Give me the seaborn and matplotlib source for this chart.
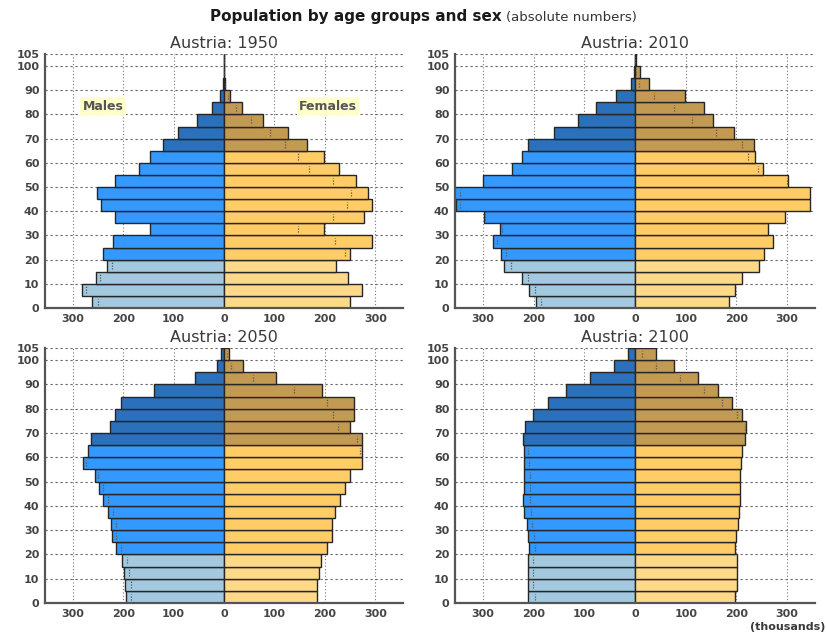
import numpy as np
import pandas as pd
import matplotlib
matplotlib.use("Agg")
import matplotlib.pyplot as plt
import seaborn as sns

sns.set_style("white")
plt.rcParams["font.family"] = ["DejaVu Sans"]

# Five-year age groups (lower bound), population in thousands
age_groups = list(range(0, 105, 5))

males_1950 = [262, 282, 253, 232, 239, 221, 147, 216, 243, 251, 216, 169, 147,
              120, 91, 54, 23, 7, 1.2, 0.3, 0.1]
females_1950 = [249, 274, 246, 222, 249, 294, 198, 277, 294, 286, 262, 228, 198,
                164, 127, 78, 36, 11, 2.2, 0.5, 0.1]

males_2010 = [196, 210, 223, 258, 264, 280, 266, 297, 353, 360, 300, 243, 223,
              211, 160, 112, 77, 38, 7, 1.2, 0.2]
females_2010 = [186, 197, 212, 245, 254, 272, 262, 296, 346, 346, 301, 252, 237,
                235, 196, 153, 136, 98, 28, 9, 1]

males_2050 = [195, 197, 199, 203, 214, 222, 224, 230, 239, 247, 255, 280, 269,
              264, 226, 216, 205, 138, 57, 14, 5]
females_2050 = [184, 184, 188, 193, 205, 214, 214, 220, 231, 239, 249, 274, 274,
                274, 249, 257, 257, 195, 103, 37, 9]

males_2100 = [211, 211, 211, 211, 210, 211, 213, 218, 220, 218, 218, 218, 218,
              220, 216, 201, 172, 136, 88, 42, 14]
females_2100 = [198, 201, 201, 201, 197, 200, 204, 206, 208, 208, 208, 210, 212,
                216, 218, 212, 191, 163, 125, 77, 41]

years = [1950, 2010, 2050, 2100]
population = {
    1950: (males_1950, females_1950),
    2010: (males_2010, females_2010),
    2050: (males_2050, females_2050),
    2100: (males_2100, females_2100),
}

age_class = ["0-19" if a < 20 else ("20-64" if a < 65 else "65+") for a in age_groups]
male_palette = {"0-19": "#A2C9DF", "20-64": "#3399FF", "65+": "#2A70BA"}
female_palette = {"0-19": "#FFD98A", "20-64": "#FFCC66", "65+": "#C29A52"}

txt_color = "#3a3a3a"
fig = plt.figure(figsize=(8.26, 6.32), dpi=100)

W, H = 826, 632
panel_px = {
    1950: (45, 54, 403, 308),
    2010: (455, 54, 815, 308),
    2050: (45, 348, 403, 603),
    2100: (455, 348, 815, 603),
}

for year in years:
    x0, y0, x1, y1 = panel_px[year]
    ax = fig.add_axes([x0 / W, 1 - y1 / H, (x1 - x0) / W, (y1 - y0) / H])
    males, females = population[year]
    df = pd.DataFrame({
        "age": np.array(age_groups) + 2.5,
        "male": -np.array(males, dtype=float),
        "female": np.array(females, dtype=float),
        "cls": age_class,
    })
    bar_kw = dict(orient="h", native_scale=True, dodge=False, width=1,
                  edgecolor="#262626", linewidth=1.0, legend=False,
                  errorbar=None, saturation=1, ax=ax, zorder=2)
    sns.barplot(data=df, x="male", y="age", hue="cls", palette=male_palette, **bar_kw)
    sns.barplot(data=df, x="female", y="age", hue="cls", palette=female_palette, **bar_kw)

    # mark the other sex's value inside the larger bar
    for a, m, f in zip(age_groups, males, females):
        xm = m if f > m else -f
        ax.vlines(xm, a + 1.3, a + 3.9, colors="#555555", linewidth=0.9,
                  linestyles=(0, (1, 1.2)), zorder=3)

    ax.set_xlim(-355, 355)
    ax.set_ylim(0, 105)
    ax.set_xticks([-300, -200, -100, 0, 100, 200, 300])
    ax.set_xticklabels(["300", "200", "100", "0", "100", "200", "300"])
    ax.set_yticks(list(range(0, 101, 10)) + [105])
    ax.set_yticklabels([str(v) for v in range(0, 101, 10)] + ["105"])
    ax.set_xlabel("")
    ax.set_ylabel("")
    ax.tick_params(length=0, labelsize=8, labelcolor="#454545", pad=4)
    for lab in ax.get_xticklabels() + ax.get_yticklabels():
        lab.set_fontweight("bold")

    ax.set_axisbelow(True)
    ax.grid(axis="y", linestyle=(0, (2, 2.5)), color="#666666", linewidth=0.8)
    ax.grid(axis="x", linestyle=(0, (1, 2)), color="#777777", linewidth=0.8)
    for side in ("top", "right"):
        ax.spines[side].set_visible(False)
    for side in ("left", "bottom"):
        ax.spines[side].set_color("#555555")
        ax.spines[side].set_linewidth(1.6)

    ax.set_title(f"Austria: {year}", fontsize=11.5, color=txt_color, pad=4)

    if year == 1950:
        box = dict(facecolor="#FFFFCC", edgecolor="none", pad=1.5)
        ax.text(-240, 83.5, "Males", ha="center", va="center", fontsize=9,
                fontweight="bold", color="#555555", bbox=box)
        ax.text(207, 83.5, "Females", ha="center", va="center", fontsize=9,
                fontweight="bold", color="#555555", bbox=box)

fig.text(0.607, 0.974, "Population by age groups and sex", ha="right", va="center",
         fontsize=11, fontweight="bold", color="#1a1a1a")
fig.text(0.612, 0.973, "(absolute numbers)", ha="left", va="center",
         fontsize=9.5, color="#333333")
fig.text(0.999, 0.008, "(thousands)", ha="right", va="center", fontsize=8,
         color=txt_color, fontweight="bold")

fig.savefig("out.png", dpi=100)
